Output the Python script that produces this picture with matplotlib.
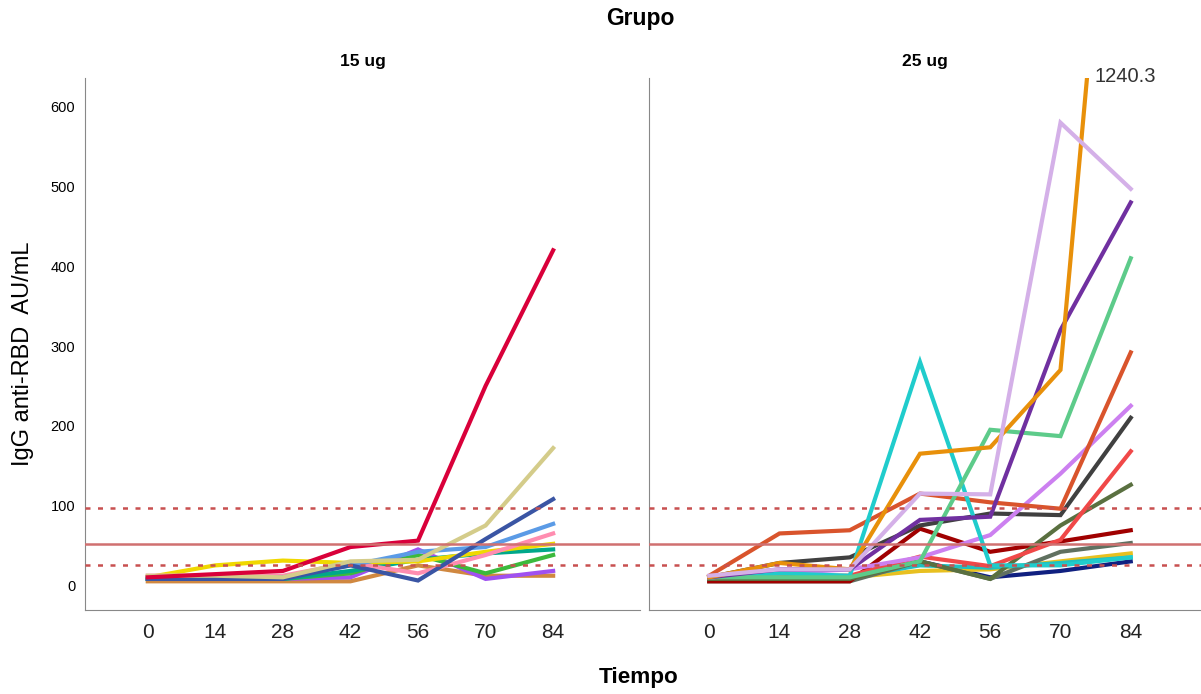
import matplotlib.pyplot as plt

plt.rcParams['font.family'] = ['Liberation Sans', 'DejaVu Sans']

tiempo = [0, 14, 28, 42, 56, 70, 84]

# 15 ug group
g15_colors = ['#D08840', '#A050F0', '#3CB93C', '#00A88A', '#F0D800', '#FF8DB0',
              '#5B9BE6', '#3A55A4', '#D4CC8A', '#D9003A']
g15_values = [
    [5, 5, 5, 5, 25, 12, 12],
    [8, 8, 8, 10, 45, 8, 18],
    [8, 8, 8, 15, 38, 15, 38],
    [8, 8, 8, 18, 32, 40, 45],
    [10, 25, 31, 28, 30, 42, 52],
    [12, 12, 12, 28, 15, 38, 65],
    [10, 10, 10, 25, 42, 48, 77],
    [8, 8, 8, 25, 6, 58, 108],
    [12, 12, 10, 30, 32, 75, 172],
    [10, 14, 18, 48, 56, 250, 420],
]

# 25 ug group
g25_colors = ['#102080', '#E8C020', '#20C0C0', '#607060', '#A00000', '#5A7040',
              '#F04848', '#404040', '#CC80F0', '#D9542C', '#20CCCC', '#5DCB8A',
              '#7030A0', '#E8900A', '#D4B0E8']
g25_values = [
    [8, 8, 8, 30, 10, 18, 30],
    [8, 10, 10, 18, 20, 30, 40],
    [8, 10, 10, 25, 22, 28, 35],
    [5, 5, 5, 30, 8, 42, 53],
    [5, 5, 5, 71, 42, 55, 69],
    [8, 8, 8, 30, 8, 75, 126],
    [10, 12, 12, 36, 24, 57, 168],
    [10, 28, 35, 75, 90, 88, 210],
    [10, 15, 20, 35, 63, 140, 225],
    [12, 65, 69, 115, 104, 96, 292],
    [10, 15, 12, 280, 25, 25, 35],
    [10, 10, 10, 30, 195, 187, 410],
    [10, 20, 20, 82, 86, 320, 480],
    [10, 28, 20, 165, 173, 270, 1240.3],
    [12, 20, 20, 115, 114, 580, 497],
]

ref_solid = 52
ref_dotted = [25, 97]

fig = plt.figure(figsize=(12.01, 6.94), dpi=100)
ax1 = fig.add_axes([0.0708, 0.121, 0.4621, 0.7666])
ax2 = fig.add_axes([0.5404, 0.121, 0.4596, 0.7666])

for ax, vals, cols in [(ax1, g15_values, g15_colors), (ax2, g25_values, g25_colors)]:
    for v, c in zip(vals, cols):
        ax.plot(tiempo, v, color=c, lw=3, solid_joinstyle='miter', zorder=2)
    ax.axhline(ref_solid, color='#D07070', lw=1.8, zorder=3)
    for r in ref_dotted:
        ax.axhline(r, color='#C85050', lw=1.8, ls=(0, (2, 3)), zorder=3)
    ax.set_ylim(-31, 636)
    ax.set_yticks([0, 100, 200, 300, 400, 500, 600])
    ax.set_xticks(tiempo)
    ax.set_xticklabels([str(t) for t in tiempo], fontsize=15, color='#222222')
    ax.tick_params(axis='x', length=0, pad=9)
    ax.tick_params(axis='y', length=0)
    for s in ['top', 'right']:
        ax.spines[s].set_visible(False)
    for s in ['left', 'bottom']:
        ax.spines[s].set_color('#888888')

ax1.set_xlim(-13, 102)
ax2.set_xlim(-12, 98)
ax1.tick_params(axis='y', labelsize=10.5, pad=7)
ax2.set_yticklabels([])

ax1.set_title('15 ug', fontsize=12.5, fontweight='bold', pad=9)
ax2.set_title('25 ug', fontsize=12.5, fontweight='bold', pad=9)
ax2.text(76.8, 638, '1240.3', fontsize=14.5, color='#333333', va='center', ha='left',
         clip_on=False)

fig.text(0.533, 0.974, 'Grupo', fontsize=16.5, fontweight='bold', ha='center', va='center')
fig.text(0.532, 0.024, 'Tiempo', fontsize=16.2, fontweight='bold', ha='center', va='center')
fig.text(0.019, 0.49, 'IgG anti-RBD  AU/mL', fontsize=17, rotation=90, ha='center', va='center')

plt.savefig('out.png', dpi=100)
